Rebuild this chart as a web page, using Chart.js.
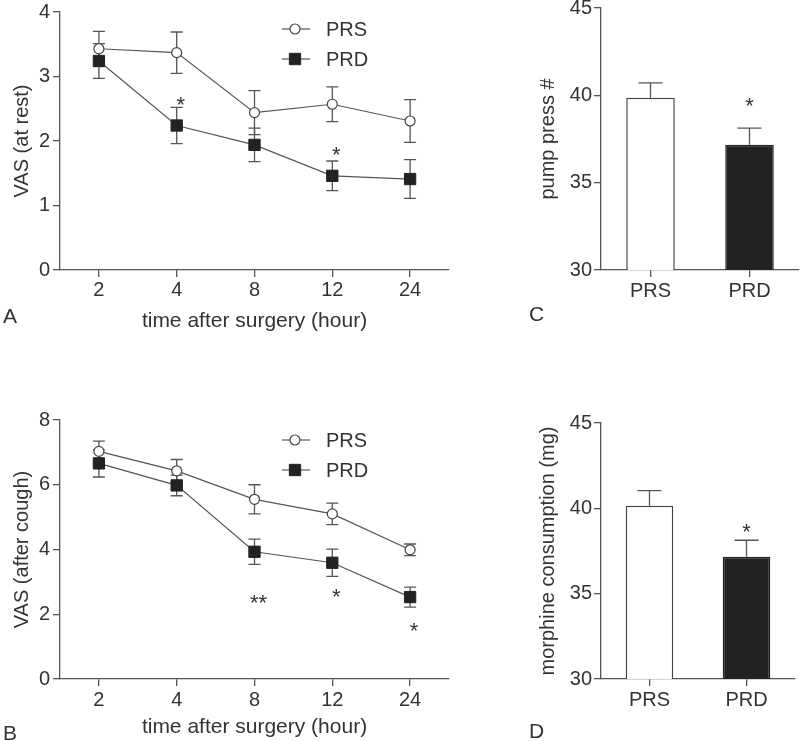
<!DOCTYPE html>
<html>
<head>
<meta charset="utf-8">
<script src="https://cdn.jsdelivr.net/npm/chart.js@4.4.1/dist/chart.umd.min.js"></script>
<style>
  body { margin: 0; background: #fff; width: 800px; height: 741px; overflow: hidden; position: relative;
         font-family: "Liberation Sans", Arial, sans-serif; }
  .panel { position: absolute; }
  .tag { position: absolute; font-size: 21px; line-height: 1; color: #333; z-index: 2; }
</style>
</head>
<body>
<div class="panel" style="left:0;top:-20px;width:460px;height:365px"><canvas id="chartA"></canvas></div>
<div class="panel" style="left:0;top:360px;width:460px;height:381px"><canvas id="chartB"></canvas></div>
<div class="panel" style="left:530px;top:-20px;width:270px;height:365px"><canvas id="chartC"></canvas></div>
<div class="panel" style="left:530px;top:360px;width:270px;height:381px"><canvas id="chartD"></canvas></div>
<div class="tag" style="left:3px;top:305px">A</div>
<div class="tag" style="left:3px;top:722px">B</div>
<div class="tag" style="left:529px;top:303px">C</div>
<div class="tag" style="left:529px;top:720px">D</div>
<script>
// time points (hours after surgery)
const hours = ['2', '4', '8', '12', '24'];

// A: VAS at rest
const restPRS = [3.43, 3.37, 2.44, 2.57, 2.31];
const restPRSErr = [0.27, 0.32, 0.34, 0.27, 0.33];
const restPRD = [3.24, 2.24, 1.94, 1.46, 1.41];
const restPRDErr = [0.27, 0.28, 0.26, 0.23, 0.30];
const restStars = ['', '*', '', '*', ''];
const restStarY = [null, 2.64, null, 1.86, null];

// B: VAS after cough
const coughPRS = [7.03, 6.43, 5.55, 5.10, 3.99];
const coughPRSErr = [0.32, 0.35, 0.45, 0.33, 0.18];
const coughPRD = [6.66, 5.98, 3.93, 3.59, 2.53];
const coughPRDErr = [0.42, 0.32, 0.39, 0.42, 0.31];
const coughStars = ['', '', '**', '*', '*'];
const coughStarY = [null, null, 2.5, 2.69, 1.64];

// C / D: group means
const groups = ['PRS', 'PRD'];
const pumpPress = [39.86, 37.17];
const pumpPressErr = [0.85, 0.95];
const pumpStars = ['', '*'];
const pumpStarY = [null, 39.65];
const morphine = [40.15, 37.17];
const morphineErr = [0.89, 0.96];
const morphineStars = ['', '*'];
const morphineStarY = [null, 38.93];

const INK = '#333';
const LINE = '#555';

Chart.defaults.font.family = '"Liberation Sans", Arial, sans-serif';
Chart.defaults.font.size = 20;
Chart.defaults.color = INK;

// error bars, drawn under the markers
const errorBars = {
  id: 'errorBars',
  beforeDatasetsDraw(chart, args, opts) {
    const ctx = chart.ctx;
    const y = chart.scales.y;
    chart.data.datasets.forEach((ds, i) => {
      if (!ds.errors) return;
      const meta = chart.getDatasetMeta(i);
      ctx.save();
      ctx.strokeStyle = LINE;
      ctx.lineWidth = 1.3;
      meta.data.forEach((el, j) => {
        const v = ds.data[j], e = ds.errors[j];
        const top = y.getPixelForValue(v + e);
        const bot = y.getPixelForValue(opts.upOnly ? v : v - e);
        ctx.beginPath();
        ctx.moveTo(el.x, top); ctx.lineTo(el.x, bot);
        ctx.moveTo(el.x - opts.cap, top); ctx.lineTo(el.x + opts.cap, top);
        if (!opts.upOnly) { ctx.moveTo(el.x - opts.cap, bot); ctx.lineTo(el.x + opts.cap, bot); }
        ctx.stroke();
      });
      ctx.restore();
    });
  }
};

// significance asterisks
const stars = {
  id: 'stars',
  afterDatasetsDraw(chart, args, opts) {
    const ctx = chart.ctx;
    const meta = chart.getDatasetMeta(opts.dataset);
    ctx.save();
    ctx.fillStyle = INK;
    ctx.font = '22px "Liberation Sans", Arial, sans-serif';
    ctx.textAlign = 'center';
    ctx.textBaseline = 'alphabetic';
    opts.marks.forEach((m, j) => {
      if (!m) return;
      const x = meta.data[j].x + (opts.dx || 0);
      const y = chart.scales.y.getPixelForValue(opts.values[j]);
      ctx.fillText(m, x, y + 12);
    });
    ctx.restore();
  }
};

// legend with line through the marker
const lineLegend = {
  id: 'lineLegend',
  afterDraw(chart, args, opts) {
    const ctx = chart.ctx;
    ctx.save();
    chart.data.datasets.forEach((ds, i) => {
      const y = opts.y + i * 30;
      ctx.strokeStyle = LINE;
      ctx.lineWidth = 1.2;
      ctx.beginPath();
      ctx.moveTo(opts.x, y); ctx.lineTo(opts.x + 28, y);
      ctx.stroke();
      ctx.fillStyle = ds.pointBackgroundColor;
      ctx.strokeStyle = ds.pointBorderColor;
      ctx.lineWidth = ds.pointBorderWidth;
      Chart.helpers.drawPoint(ctx, {
        pointStyle: ds.pointStyle, radius: ds.pointRadius, rotation: 0, borderWidth: ds.pointBorderWidth
      }, opts.x + 13, y);
      ctx.fillStyle = INK;
      ctx.font = '20px "Liberation Sans", Arial, sans-serif';
      ctx.textAlign = 'left';
      ctx.textBaseline = 'middle';
      ctx.fillText(ds.label, opts.x + 44, y + 1);
    });
    ctx.restore();
  }
};

function axisStyle() {
  return {
    border: { display: true, color: LINE, width: 1.3 },
    grid: { display: true, drawOnChartArea: false, drawTicks: true, tickLength: 7, color: LINE, lineWidth: 1.3, offset: false }
  };
}

function lineChart(id, yTitle, yMax, yStep, prs, prsErr, prd, prdErr, marks, markY, pad, legendY, xAxisH, xTitlePad, xTickPad) {
  return new Chart(document.getElementById(id), {
    type: 'line',
    data: {
      labels: hours,
      datasets: [
        {
          label: 'PRS', data: prs, errors: prsErr,
          borderColor: LINE, borderWidth: 1.2, tension: 0,
          pointStyle: 'circle', pointRadius: 5, pointBackgroundColor: '#fff',
          pointBorderColor: '#444', pointBorderWidth: 1.2
        },
        {
          label: 'PRD', data: prd, errors: prdErr,
          borderColor: LINE, borderWidth: 1.2, tension: 0,
          pointStyle: 'rect', pointRadius: 8, pointBackgroundColor: '#222',
          pointBorderColor: '#222', pointBorderWidth: 1
        }
      ]
    },
    options: {
      responsive: true,
      maintainAspectRatio: false,
      animation: false,
      events: [],
      layout: { padding: pad },
      plugins: {
        legend: { display: false },
        tooltip: { enabled: false },
        errorBars: { cap: 6, upOnly: false },
        stars: { dataset: 1, marks: marks, values: markY, dx: 4 },
        lineLegend: { x: 282, y: legendY }
      },
      scales: {
        x: Object.assign(axisStyle(), {
          offset: true,
          ticks: { padding: xTickPad, maxRotation: 0, autoSkip: false, font: { size: 20, lineHeight: 1 } },
          title: { display: true, text: 'time after surgery (hour)', font: { size: 21, lineHeight: 1 }, padding: { top: 0, bottom: xTitlePad } },
          afterFit: s => { s.height = xAxisH; }
        }),
        y: Object.assign(axisStyle(), {
          min: 0, max: yMax,
          ticks: { stepSize: yStep, padding: 3, font: { size: 20, lineHeight: 1 } },
          title: { display: true, text: yTitle, font: { size: 20, lineHeight: 1 }, padding: { top: 12, bottom: 0 } },
          afterFit: s => { s.width = 60; }
        })
      }
    },
    plugins: [errorBars, stars, lineLegend]
  });
}

function barChart(id, yTitle, values, errs, marks, markY, pad, xAxisH) {
  return new Chart(document.getElementById(id), {
    type: 'bar',
    data: {
      labels: groups,
      datasets: [{
        data: values, errors: errs,
        backgroundColor: ['#fff', '#222'],
        borderColor: ['#444', '#222'],
        borderWidth: 1.5,
        categoryPercentage: 1,
        barPercentage: 0.49
      }]
    },
    options: {
      responsive: true,
      maintainAspectRatio: false,
      animation: false,
      events: [],
      layout: { padding: pad },
      plugins: {
        legend: { display: false },
        tooltip: { enabled: false },
        errorBars: { cap: 12, upOnly: true },
        stars: { dataset: 0, marks: marks, values: markY, dx: 0 }
      },
      scales: {
        x: Object.assign(axisStyle(), {
          ticks: { padding: 4, font: { size: 20, lineHeight: 1 } },
          afterFit: s => { s.height = xAxisH; }
        }),
        y: Object.assign(axisStyle(), {
          min: 30, max: 45,
          ticks: { stepSize: 5, padding: 2, font: { size: 20, lineHeight: 1 } },
          title: { display: true, text: yTitle, font: { size: 20, lineHeight: 1 }, padding: { top: 8, bottom: 0 } },
          afterFit: s => { s.width = 71; }
        })
      }
    },
    plugins: [errorBars, stars]
  });
}

lineChart('chartA', 'VAS (at rest)', 4, 1, restPRS, restPRSErr, restPRD, restPRDErr, restStars, restStarY,
  { top: 32, right: 11, bottom: 0, left: 0 }, 49, 75, 13, 3);
lineChart('chartB', 'VAS (after cough)', 8, 2, coughPRS, coughPRSErr, coughPRD, coughPRDErr, coughStars, coughStarY,
  { top: 60, right: 11, bottom: 0, left: 0 }, 80, 62, 3, 4);
barChart('chartC', 'pump press #', pumpPress, pumpPressErr, pumpStars, pumpStarY,
  { top: 28, right: 1, bottom: 0, left: 0 }, 75);
barChart('chartD', 'morphine consumption (mg)', morphine, morphineErr, morphineStars, morphineStarY,
  { top: 63, right: 5, bottom: 0, left: 0 }, 62);
</script>
</body>
</html>
